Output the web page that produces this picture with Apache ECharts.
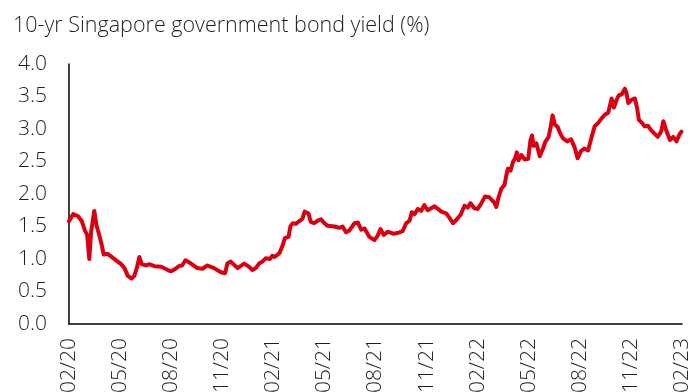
<!DOCTYPE html>
<html><head><meta charset="utf-8">
<script src="https://cdn.jsdelivr.net/npm/echarts@6/dist/echarts.min.js"></script>
<style>html,body{margin:0;padding:0;background:#fff}#c{width:695px;height:392px}</style>
</head><body><div id="c"></div>
<script>
const titleText = '10-yr Singapore government bond yield (%)';
const tickLabels = ['02/20','05/20','08/20','11/20','02/21','05/21','08/21','11/21','02/22','05/22','08/22','11/22','02/23'];
const yTicks = [0, 0.5, 1, 1.5, 2, 2.5, 3, 3.5, 4];
const dates = [
'2020-02-01','2020-02-08','2020-02-16','2020-02-23','2020-02-28','2020-03-03','2020-03-07','2020-03-10','2020-03-13','2020-03-16',
'2020-03-20','2020-03-25','2020-03-29','2020-04-02','2020-04-09','2020-04-15','2020-04-24','2020-05-03','2020-05-09','2020-05-15',
'2020-05-22','2020-05-27','2020-06-01','2020-06-05','2020-06-09','2020-06-17','2020-06-22','2020-07-02','2020-07-14','2020-07-26',
'2020-08-01','2020-08-09','2020-08-15','2020-08-21','2020-08-27','2020-09-06','2020-09-17','2020-09-26','2020-10-05','2020-10-17',
'2020-10-29','2020-11-06','2020-11-10','2020-11-16','2020-11-22','2020-11-28','2020-12-10','2020-12-19','2020-12-25','2020-12-31',
'2021-01-06','2021-01-12','2021-01-18','2021-01-26','2021-01-30','2021-02-03','2021-02-11','2021-02-16','2021-02-20','2021-02-26',
'2021-03-01','2021-03-05','2021-03-11','2021-03-17','2021-03-23','2021-03-27','2021-04-03','2021-04-07','2021-04-13','2021-04-19',
'2021-04-25','2021-05-01','2021-05-07','2021-05-19','2021-05-28','2021-06-03','2021-06-09','2021-06-15','2021-06-24','2021-06-30',
'2021-07-06','2021-07-12','2021-07-21','2021-07-30','2021-08-05','2021-08-10','2021-08-16','2021-08-23','2021-09-02','2021-09-10',
'2021-09-19','2021-09-25','2021-10-01','2021-10-05','2021-10-10','2021-10-16','2021-10-22','2021-10-28','2021-11-03','2021-11-09',
'2021-11-15','2021-11-21','2021-11-27','2021-12-06','2021-12-12','2021-12-18','2021-12-24','2022-01-01','2022-01-08','2022-01-14',
'2022-01-19','2022-01-26','2022-02-01','2022-02-06','2022-02-13','2022-02-20','2022-02-28','2022-03-04','2022-03-08','2022-03-13',
'2022-03-19','2022-03-22','2022-03-25','2022-03-30','2022-04-03','2022-04-07','2022-04-10','2022-04-13','2022-04-18','2022-04-24',
'2022-04-30','2022-05-04','2022-05-07','2022-05-10','2022-05-15','2022-05-21','2022-05-27','2022-05-31','2022-06-06','2022-06-10',
'2022-06-13','2022-06-17','2022-06-22','2022-06-26','2022-07-01','2022-07-09','2022-07-16','2022-07-22','2022-07-28','2022-08-03',
'2022-08-09','2022-08-16','2022-08-22','2022-08-28','2022-09-03','2022-09-09','2022-09-15','2022-09-21','2022-09-27','2022-10-01',
'2022-10-06','2022-10-10','2022-10-15','2022-10-21','2022-10-24','2022-10-27','2022-11-02','2022-11-08','2022-11-12','2022-11-15',
'2022-11-21','2022-11-25','2022-12-01','2022-12-07','2022-12-13','2022-12-19','2022-12-25','2022-12-29','2023-01-04','2023-01-10',
'2023-01-16','2023-01-22','2023-01-27','2023-01-31'
];
const yields = [
1.58,1.69,1.66,1.58,1.44,1.37,1.00,1.40,1.38,1.74,
1.52,1.37,1.24,1.07,1.08,1.04,0.98,0.92,0.86,0.74,
0.70,0.74,0.88,1.03,0.92,0.90,0.92,0.89,0.88,0.83,
0.81,0.85,0.89,0.90,0.98,0.93,0.86,0.85,0.90,0.86,
0.80,0.78,0.93,0.96,0.91,0.86,0.93,0.88,0.83,0.86,
0.93,0.96,1.01,1.00,1.05,1.03,1.09,1.20,1.32,1.34,
1.50,1.55,1.54,1.58,1.62,1.73,1.70,1.57,1.55,1.59,
1.61,1.55,1.51,1.50,1.48,1.50,1.41,1.44,1.55,1.56,
1.45,1.47,1.34,1.29,1.36,1.46,1.37,1.42,1.39,1.40,
1.43,1.55,1.59,1.72,1.69,1.77,1.74,1.83,1.75,1.78,
1.81,1.77,1.73,1.70,1.63,1.55,1.60,1.68,1.82,1.79,
1.86,1.78,1.77,1.84,1.96,1.95,1.87,1.80,1.95,2.08,
2.14,2.28,2.39,2.36,2.49,2.55,2.64,2.52,2.60,2.53,
2.54,2.82,2.90,2.74,2.78,2.58,2.70,2.80,2.88,3.05,
3.21,3.07,3.03,2.94,2.86,2.81,2.84,2.73,2.55,2.66,
2.70,2.67,2.86,3.04,3.09,3.16,3.22,3.25,3.47,3.33,
3.45,3.52,3.53,3.62,3.55,3.40,3.45,3.47,3.32,3.14,
3.09,3.04,3.05,2.98,2.93,2.88,2.96,3.12,2.96,2.83,
2.88,2.81,2.91,2.96
];

function monthIndex(s) {
  const p = s.split('-').map(Number);
  const dim = new Date(p[0], p[1], 0).getDate();
  return (p[0] - 2020) * 12 + (p[1] - 2) + (p[2] - 1) / dim;
}
const seriesData = dates.map((d, i) => [monthIndex(d), yields[i]]);

const FONT = '"Open Sans"';
const TXT = '#1f1f1f';
const chart = echarts.init(document.getElementById('c'), null, {renderer: 'canvas'});
chart.setOption({
  animation: false,
  backgroundColor: '#fff',
  title: {
    text: titleText, left: 8, top: 10,
    textStyle: {fontFamily: FONT, fontWeight: 300, fontSize: 21.5, color: TXT}
  },
  grid: {left: 69, right: 13, top: 64, bottom: 68, containLabel: false, outerBoundsMode: 'none'},
  xAxis: {
    type: 'value', min: 0, max: 36, interval: 3,
    axisLine: {show: true, lineStyle: {color: '#000', width: 1.5}},
    axisTick: {show: false},
    splitLine: {show: false},
    axisLabel: {
      rotate: 90, margin: 14, fontFamily: FONT, fontWeight: 300, fontSize: 21, color: TXT,
      formatter: v => tickLabels[Math.round(v / 3)] || ''
    }
  },
  yAxis: {
    type: 'value', min: yTicks[0], max: yTicks[yTicks.length - 1], interval: 0.5,
    axisLine: {show: true, lineStyle: {color: '#000', width: 1.5}},
    axisTick: {show: false},
    splitLine: {show: false},
    axisLabel: {
      margin: 22, fontFamily: FONT, fontWeight: 300, fontSize: 21, color: TXT,
      formatter: v => v.toFixed(1)
    }
  },
  series: [{
    type: 'line', data: seriesData, showSymbol: false, smooth: false,
    lineStyle: {color: '#DB0011', width: 4, join: 'round', cap: 'round'},
    clip: false
  }]
});
</script>
</body></html>
